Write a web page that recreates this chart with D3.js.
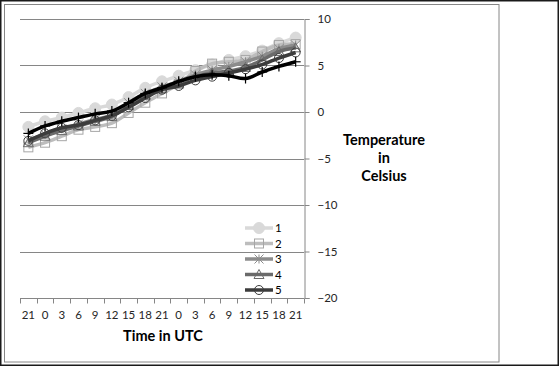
<!DOCTYPE html>
<html><head><meta charset="utf-8">
<script src="https://cdn.jsdelivr.net/npm/d3@7"></script>
<style>
html,body{margin:0;padding:0;background:#fff;}
svg{display:block;}
text{font-family:Lato,"Liberation Sans",Arial,sans-serif;}
</style></head>
<body>
<script>
const categories = ["21","0","3","6","9","12","15","18","21","0","3","6","9","12","15","18","21"];
const yTicks = [-20,-15,-10,-5,0,5,10];
const seriesNames = ["1","2","3","4","5","6"];
const s1 = [-1.6,-1.0,-0.6,-0.1,0.4,0.8,1.6,2.6,3.3,3.9,4.5,5.1,5.6,6.0,6.6,7.4,8.0];
const s2 = [-3.8,-3.3,-2.6,-1.9,-1.6,-1.2,-0.1,1.0,2.0,3.0,4.4,5.2,5.4,5.6,6.5,7.2,7.3];
const s3 = [-3.0,-2.4,-1.8,-1.3,-0.8,-0.3,1.0,2.0,2.7,3.3,4.0,4.5,4.9,5.4,6.0,6.8,7.2];
const s4 = [-3.3,-2.6,-2.0,-1.5,-1.0,-0.5,0.7,1.8,2.5,3.1,3.8,4.2,4.4,4.8,5.6,6.5,6.9];
const s5 = [-3.1,-2.3,-1.7,-1.4,-0.9,-0.4,0.5,1.5,2.4,2.8,3.4,3.8,4.2,4.6,5.1,5.8,6.4];
const s6 = [-2.3,-1.5,-1.0,-0.6,-0.2,0.1,1.0,2.0,2.6,3.3,3.8,4.0,3.9,3.6,4.3,4.9,5.4];
const allSeries = [s1,s2,s3,s4,s5,s6];
const lineColors = ["#d9d9d9","#bdbdbd","#8c8c8c","#6a6a6a","#3c3c3c","#000000"];
const markerTypes = ["dot","square","star","triangle","circle","plus"];
const legendCount = 5;

const W=559,H=366;
const svg=d3.select("body").append("svg").attr("width",W).attr("height",H);
svg.append("rect").attr("x",0.75).attr("y",0.75).attr("width",W-1.5).attr("height",H-1.5)
  .attr("fill","#fff").attr("stroke","#1a1a1a").attr("stroke-width",1.5);
svg.append("rect").attr("x",4.5).attr("y",4.5).attr("width",494.5).attr("height",357.5)
  .attr("fill","none").attr("stroke","#868686").attr("stroke-width",1);

const L=20,R=304,T=19,B=298;
const x=d3.scaleBand().domain(d3.range(categories.length)).range([L,R]);
const y=d3.scaleLinear().domain([-20,10]).range([B,T]);
const cx=i=>x(i)+x.bandwidth()/2;

svg.append("g").selectAll("line").data(yTicks.filter(t=>t!==-20)).join("line")
  .attr("x1",L).attr("x2",R).attr("y1",d=>Math.round(y(d))+0.5).attr("y2",d=>Math.round(y(d))+0.5)
  .attr("stroke","#868686").attr("stroke-width",1);

const yAxis=d3.axisRight(y).tickValues(yTicks).tickSize(5).tickPadding(8);
const gy=svg.append("g").attr("transform",`translate(${R+0.5},0)`).call(yAxis);
gy.select(".domain").attr("stroke","#868686");
gy.selectAll(".tick line").attr("stroke","#868686");
gy.selectAll(".tick text").attr("font-size",11.5).attr("fill","#262626");

const gx=svg.append("g").attr("transform",`translate(0,${Math.round(B)+0.5})`);
gx.append("line").attr("x1",L).attr("x2",R).attr("stroke","#868686");
gx.selectAll("line.tk").data(d3.range(categories.length+1)).join("line").attr("class","tk")
  .attr("x1",i=>Math.round(L+i*x.step())+0.5).attr("x2",i=>Math.round(L+i*x.step())+0.5)
  .attr("y1",0).attr("y2",5).attr("stroke","#868686");
gx.selectAll("text").data(categories).join("text")
  .attr("x",(d,i)=>cx(i)).attr("y",20).attr("text-anchor","middle")
  .attr("font-size",11.5).attr("fill","#262626").text(d=>d);

svg.append("text").attr("x",163).attr("y",341).attr("text-anchor","middle")
  .attr("font-size",14.5).attr("font-weight","bold").attr("fill","#000").text("Time in UTC");
const tt=svg.append("text").attr("text-anchor","middle").attr("font-size",14.5).attr("font-weight","bold").attr("fill","#000");
[["Temperature",145],["in",163],["Celsius",181]].forEach(([t,yy])=>tt.append("tspan").attr("x",384).attr("y",yy).text(t));

function drawMarker(g,type,px,py,col){
  if(type==="dot"){g.append("circle").attr("cx",px).attr("cy",py).attr("r",5.5).attr("fill",col).attr("stroke",col);}
  else if(type==="square"){g.append("rect").attr("x",px-4.5).attr("y",py-4.5).attr("width",9).attr("height",9).attr("fill","none").attr("stroke","#a6a6a6").attr("stroke-width",1);}
  else if(type==="star"){const s=4.5;
    [[-s,-s,s,s],[-s,s,s,-s],[0,-s,0,s]].forEach(a=>g.append("line").attr("x1",px+a[0]).attr("y1",py+a[1]).attr("x2",px+a[2]).attr("y2",py+a[3]).attr("stroke","#8c8c8c").attr("stroke-width",1));}
  else if(type==="triangle"){const s=5;g.append("path").attr("d",`M${px},${py-s}L${px+s},${py+s*0.8}L${px-s},${py+s*0.8}Z`).attr("fill","none").attr("stroke","#6a6a6a").attr("stroke-width",1);}
  else if(type==="circle"){g.append("circle").attr("cx",px).attr("cy",py).attr("r",4.5).attr("fill","none").attr("stroke","#3c3c3c").attr("stroke-width",1);}
  else if(type==="plus"){const s=5;
    g.append("line").attr("x1",px-s).attr("x2",px+s).attr("y1",py).attr("y2",py).attr("stroke","#000").attr("stroke-width",1.2);
    g.append("line").attr("x1",px).attr("x2",px).attr("y1",py-s).attr("y2",py+s).attr("stroke","#000").attr("stroke-width",1.2);}
}

const line=d3.line().x((d,i)=>cx(i)).y(d=>y(d)).curve(d3.curveCatmullRom.alpha(0.5));
allSeries.forEach((s,k)=>{
  const g=svg.append("g");
  g.append("path").attr("d",line(s)).attr("fill","none").attr("stroke",lineColors[k]).attr("stroke-width",3.5).attr("stroke-linejoin","round");
  s.forEach((v,i)=>drawMarker(g,markerTypes[k],cx(i),y(v),lineColors[k]));
});

const lg=svg.append("g");
for(let k=0;k<legendCount;k++){
  const ly=228+k*15.5;
  lg.append("line").attr("x1",245).attr("x2",273).attr("y1",ly).attr("y2",ly).attr("stroke",lineColors[k]).attr("stroke-width",3.5);
  drawMarker(lg,markerTypes[k],259,ly,lineColors[k]);
  lg.append("text").attr("x",275).attr("y",ly+4).attr("font-size",11.5).attr("fill","#000").text(seriesNames[k]);
}
</script>
</body></html>
